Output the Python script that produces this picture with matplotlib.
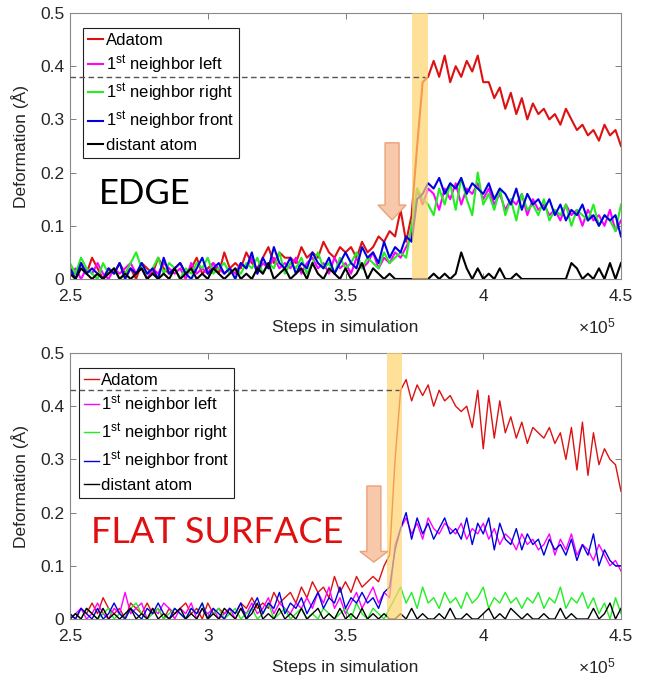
import numpy as np
import matplotlib
matplotlib.use("Agg")
import matplotlib.pyplot as plt
from matplotlib.patches import FancyArrow

plt.rcParams['font.family'] = ['Liberation Sans', 'DejaVu Sans']
plt.rcParams['mathtext.default'] = 'regular'

# ---------------- data ----------------
steps = np.arange(250000, 450001, 2000)

labels = ["Adatom", "1$^{st}$ neighbor left", "1$^{st}$ neighbor right",
          "1$^{st}$ neighbor front", "distant atom"]

edge_adatom = [0.02,0.01,0.03,0.01,0.04,0.02,0.00,0.02,0.01,0.03,
               0.01,0.02,0.00,0.03,0.02,0.01,0.04,0.02,0.01,0.02,
               0.03,0.01,0.02,0.04,0.01,0.02,0.03,0.01,0.05,0.02,
               0.03,0.02,0.05,0.03,0.02,0.04,0.06,0.03,0.05,0.04,
               0.04,0.03,0.06,0.04,0.05,0.04,0.07,0.05,0.04,0.06,
               0.05,0.06,0.04,0.07,0.05,0.06,0.08,0.07,0.09,0.08,
               0.13,0.07,0.12,0.25,0.37,0.38,0.41,0.38,0.42,0.37,
               0.40,0.38,0.41,0.39,0.42,0.37,0.37,0.34,0.36,0.32,
               0.35,0.31,0.34,0.30,0.33,0.31,0.32,0.30,0.31,0.29,
               0.32,0.30,0.28,0.29,0.27,0.28,0.26,0.29,0.27,0.28,
               0.25]
edge_left = [0.01,0.02,0.00,0.02,0.01,0.03,0.01,0.00,0.02,0.01,
             0.02,0.03,0.01,0.02,0.00,0.02,0.01,0.03,0.02,0.01,
             0.02,0.00,0.03,0.01,0.02,0.01,0.03,0.02,0.01,0.02,
             0.01,0.03,0.02,0.04,0.01,0.03,0.02,0.04,0.02,0.03,
             0.02,0.04,0.01,0.03,0.04,0.02,0.03,0.01,0.04,0.02,
             0.03,0.01,0.04,0.02,0.03,0.05,0.02,0.04,0.03,0.05,
             0.04,0.06,0.08,0.17,0.14,0.17,0.16,0.13,0.17,0.15,
             0.18,0.14,0.17,0.16,0.18,0.15,0.17,0.14,0.16,0.13,
             0.15,0.14,0.16,0.12,0.15,0.13,0.14,0.12,0.13,0.11,
             0.14,0.12,0.13,0.10,0.13,0.11,0.12,0.10,0.13,0.09,
             0.11]
edge_right = [0.03,0.01,0.04,0.02,0.01,0.00,0.03,0.01,0.02,0.00,
              0.01,0.03,0.05,0.02,0.01,0.02,0.04,0.01,0.03,0.02,
              0.00,0.02,0.01,0.03,0.02,0.04,0.01,0.02,0.03,0.01,
              0.02,0.01,0.03,0.02,0.04,0.01,0.03,0.02,0.05,0.01,
              0.03,0.02,0.04,0.01,0.03,0.05,0.02,0.03,0.01,0.04,
              0.02,0.03,0.05,0.02,0.04,0.03,0.02,0.05,0.03,0.04,
              0.05,0.04,0.10,0.17,0.15,0.14,0.12,0.17,0.14,0.18,
              0.13,0.19,0.15,0.12,0.20,0.14,0.16,0.13,0.17,0.12,
              0.15,0.11,0.16,0.13,0.14,0.12,0.15,0.11,0.13,0.12,
              0.14,0.10,0.13,0.12,0.11,0.14,0.10,0.12,0.11,0.09,
              0.14]
edge_front = [0.02,0.00,0.03,0.01,0.02,0.01,0.00,0.02,0.01,0.03,
              0.00,0.02,0.01,0.03,0.01,0.02,0.00,0.04,0.01,0.02,
              0.03,0.01,0.00,0.02,0.04,0.01,0.02,0.03,0.01,0.02,
              0.00,0.03,0.02,0.05,0.01,0.04,0.02,0.06,0.03,0.02,
              0.04,0.01,0.03,0.02,0.05,0.03,0.02,0.04,0.01,0.03,
              0.05,0.03,0.02,0.06,0.04,0.05,0.03,0.07,0.04,0.06,
              0.05,0.08,0.07,0.15,0.16,0.18,0.17,0.19,0.16,0.18,
              0.17,0.19,0.16,0.18,0.17,0.16,0.18,0.15,0.17,0.16,
              0.14,0.17,0.13,0.16,0.14,0.15,0.13,0.15,0.12,0.14,
              0.11,0.13,0.12,0.14,0.11,0.12,0.10,0.12,0.11,0.12,
              0.08]
edge_distant = [0.01,0.00,0.02,0.01,0.00,0.01,0.00,0.01,0.02,0.00,
                0.01,0.00,0.01,0.02,0.00,0.01,0.00,0.01,0.00,0.02,
                0.00,0.01,0.02,0.00,0.01,0.00,0.02,0.01,0.00,0.01,
                0.02,0.00,0.01,0.00,0.02,0.01,0.03,0.00,0.01,0.02,
                0.00,0.01,0.02,0.00,0.03,0.01,0.00,0.02,0.01,0.00,
                0.02,0.00,0.01,0.03,0.00,0.02,0.01,0.00,0.01,0.00,
                0.00,0.00,0.00,0.00,0.00,0.00,0.01,0.00,0.01,0.00,
                0.01,0.05,0.02,0.00,0.02,0.00,0.01,0.00,0.02,0.00,
                0.00,0.01,0.00,0.00,0.00,0.00,0.00,0.00,0.00,0.00,
                0.00,0.03,0.02,0.00,0.01,0.00,0.02,0.00,0.03,0.00,
                0.03]

flat_adatom = [0.01,0.00,0.02,0.01,0.03,0.01,0.04,0.02,0.01,0.02,
               0.00,0.03,0.02,0.01,0.03,0.01,0.02,0.00,0.02,0.01,
               0.02,0.03,0.01,0.02,0.00,0.03,0.01,0.02,0.01,0.02,
               0.01,0.03,0.02,0.04,0.02,0.03,0.02,0.05,0.03,0.04,
               0.05,0.03,0.06,0.04,0.07,0.05,0.06,0.04,0.08,0.05,
               0.07,0.05,0.08,0.06,0.07,0.08,0.07,0.10,0.12,0.30,
               0.43,0.45,0.41,0.44,0.42,0.44,0.40,0.43,0.41,0.42,
               0.40,0.39,0.40,0.36,0.43,0.32,0.42,0.34,0.41,0.35,
               0.38,0.34,0.37,0.33,0.36,0.35,0.34,0.36,0.33,0.35,
               0.30,0.36,0.28,0.37,0.27,0.35,0.29,0.32,0.30,0.29,
               0.24]
flat_left = [0.00,0.01,0.02,0.00,0.01,0.03,0.01,0.00,0.02,0.01,
             0.05,0.01,0.02,0.03,0.00,0.02,0.01,0.03,0.02,0.00,
             0.02,0.01,0.03,0.00,0.02,0.01,0.02,0.00,0.01,0.02,
             0.00,0.02,0.01,0.03,0.01,0.02,0.04,0.01,0.03,0.02,
             0.01,0.03,0.02,0.04,0.02,0.05,0.03,0.06,0.02,0.04,
             0.01,0.03,0.05,0.02,0.04,0.06,0.03,0.05,0.04,0.14,
             0.17,0.19,0.16,0.18,0.15,0.19,0.17,0.16,0.18,0.17,
             0.16,0.18,0.15,0.17,0.16,0.18,0.15,0.17,0.14,0.16,
             0.15,0.13,0.16,0.14,0.15,0.13,0.14,0.16,0.12,0.15,
             0.13,0.16,0.12,0.14,0.13,0.11,0.14,0.12,0.10,0.11,
             0.09]
flat_right = [0.00,0.01,0.00,0.02,0.01,0.00,0.01,0.02,0.00,0.01,
              0.00,0.02,0.03,0.01,0.00,0.01,0.02,0.00,0.01,0.02,
              0.01,0.00,0.02,0.01,0.03,0.00,0.01,0.02,0.00,0.01,
              0.02,0.00,0.01,0.02,0.00,0.01,0.03,0.00,0.01,0.02,
              0.00,0.01,0.02,0.00,0.01,0.00,0.02,0.01,0.00,0.01,
              0.02,0.00,0.03,0.01,0.00,0.02,0.01,0.00,0.02,0.04,
              0.06,0.03,0.05,0.02,0.06,0.03,0.04,0.02,0.05,0.03,
              0.04,0.02,0.05,0.03,0.04,0.06,0.02,0.04,0.03,0.05,
              0.03,0.04,0.02,0.04,0.03,0.05,0.02,0.04,0.03,0.06,
              0.02,0.04,0.03,0.05,0.02,0.04,0.01,0.03,0.00,0.04,
              0.01]
flat_front = [0.01,0.00,0.02,0.01,0.00,0.02,0.00,0.01,0.03,0.01,
              0.00,0.02,0.01,0.00,0.02,0.01,0.03,0.01,0.00,0.02,
              0.01,0.00,0.02,0.01,0.03,0.00,0.02,0.01,0.00,0.02,
              0.01,0.03,0.00,0.02,0.04,0.01,0.03,0.02,0.05,0.01,
              0.03,0.02,0.04,0.01,0.03,0.05,0.02,0.04,0.03,0.06,
              0.02,0.04,0.03,0.05,0.03,0.04,0.02,0.05,0.06,0.13,
              0.17,0.20,0.15,0.19,0.16,0.18,0.15,0.17,0.19,0.16,
              0.17,0.15,0.19,0.14,0.18,0.16,0.19,0.13,0.18,0.15,
              0.14,0.17,0.13,0.16,0.14,0.15,0.12,0.15,0.13,0.14,
              0.12,0.15,0.11,0.14,0.12,0.16,0.10,0.13,0.11,0.10,
              0.10]
flat_distant = [0.00,0.01,0.00,0.02,0.01,0.00,0.02,0.00,0.01,0.00,
                0.01,0.02,0.00,0.01,0.00,0.02,0.00,0.01,0.00,0.01,
                0.02,0.00,0.01,0.00,0.02,0.00,0.01,0.00,0.02,0.01,
                0.00,0.02,0.00,0.01,0.03,0.00,0.01,0.00,0.02,0.00,
                0.01,0.00,0.02,0.00,0.01,0.02,0.00,0.01,0.00,0.02,
                0.00,0.01,0.00,0.02,0.00,0.01,0.00,0.01,0.00,0.00,
                0.01,0.00,0.02,0.00,0.01,0.00,0.00,0.01,0.00,0.02,
                0.00,0.00,0.01,0.00,0.00,0.01,0.02,0.00,0.01,0.00,
                0.02,0.01,0.00,0.01,0.00,0.00,0.01,0.00,0.00,0.02,
                0.00,0.01,0.00,0.00,0.00,0.02,0.00,0.01,0.03,0.00,
                0.02]

edge_series = [edge_adatom, edge_left, edge_right, edge_front, edge_distant]
flat_series = [flat_adatom, flat_left, flat_right, flat_front, flat_distant]
colors = ['#DD1111', '#FF00FF', '#22EE22', '#0000E0', '#000000']

# transition bands, saturation levels, arrows
edge_band = (374000, 380000)
flat_band = (365000, 370500)
edge_level, edge_level_end = 0.38, 379000
flat_level, flat_level_end = 0.43, 369500
edge_arrow = (366900, 0.256, 0.111)
flat_arrow = (360300, 0.25, 0.107)

xticks = [250000, 300000, 350000, 400000, 450000]
xticklabels = ['2.5', '3', '3.5', '4', '4.5']
yticks = [0, 0.1, 0.2, 0.3, 0.4, 0.5]
yticklabels = ['0', '0.1', '0.2', '0.3', '0.4', '0.5']

# ---------------- figure ----------------
W, H = 652, 677
fig = plt.figure(figsize=(W/100, H/100), dpi=100)

def make_ax(top_px):
    return fig.add_axes([70/W, 1 - (top_px + 266)/H, 551/W, 266/H])

ax1 = make_ax(13)
ax2 = make_ax(353)

def draw(ax, series, lw, band, level, level_end, arrow, label_text, label_color,
         label_x, label_y, label_size, head_len, leg_x):
    for s, c, lab in zip(series, colors, labels):
        ax.plot(steps, s, color=c, lw=lw, label=lab, zorder=2)
    ax.axvspan(band[0], band[1], color='#FFD46E', alpha=0.7, lw=0, zorder=3)
    ax.hlines(level, 250000, level_end, colors='#555555', linestyles=(0, (4, 2.5)), lw=1.0, zorder=7)
    ax_x, y_top, y_tip = arrow
    shaft = 14/551*200000
    head = 28/551*200000
    ar = FancyArrow(ax_x, y_top, 0, -(y_top - y_tip), width=shaft, head_width=head,
                    head_length=head_len, length_includes_head=True,
                    facecolor='#F8C8AA', edgecolor='#E9A27C', lw=1.0, zorder=4)
    ax.add_patch(ar)
    ax.text(label_x, label_y, label_text, color=label_color, fontsize=label_size,
            family=['Lato', 'DejaVu Sans'], va='baseline', ha='left', zorder=6)
    ax.set_xlim(250000, 450000)
    ax.set_ylim(0, 0.5)
    ax.set_xticks(xticks)
    ax.set_xticklabels(xticklabels)
    ax.set_yticks(yticks)
    ax.set_yticklabels(yticklabels)
    ax.tick_params(direction='in', top=True, right=True, length=4, width=0.7,
                   colors='#7f7f7f', labelcolor='#262626', labelsize=12.5)
    ax.tick_params(axis='x', pad=7)
    ax.tick_params(axis='y', pad=4)
    for sp in ax.spines.values():
        sp.set_color('#8a8a8a')
        sp.set_linewidth(0.8)
    ax.set_xlabel('Steps in simulation', fontsize=12.5, color='#262626', labelpad=12)
    ax.set_ylabel('Deformation (Å)', fontsize=12.5, color='#262626', labelpad=8)
    ax.text(0.922, -0.18, r'$\times10^{5}$', transform=ax.transAxes, fontsize=12.5,
            color='#262626', ha='left', va='center')
    leg = ax.legend(loc='upper left', bbox_to_anchor=(leg_x, 0.944), fontsize=12,
                    frameon=True, fancybox=False, edgecolor='#202020', framealpha=1,
                    handlelength=0.9, handletextpad=0.15, borderaxespad=0,
                    borderpad=0.3, labelspacing=0.33)
    leg.get_frame().set_linewidth(0.8)
    leg.set_zorder(5)

draw(ax1, edge_series, 1.5, edge_band, edge_level, edge_level_end, edge_arrow,
     'EDGE', '#000000', 260500, 0.141, 25, 0.028, 0.0236)
draw(ax2, flat_series, 1.0, flat_band, flat_level, flat_level_end, flat_arrow,
     'FLAT SURFACE', '#E01010', 257500, 0.143, 26, 0.02, 0.016)

fig.savefig('out.png', dpi=100)
